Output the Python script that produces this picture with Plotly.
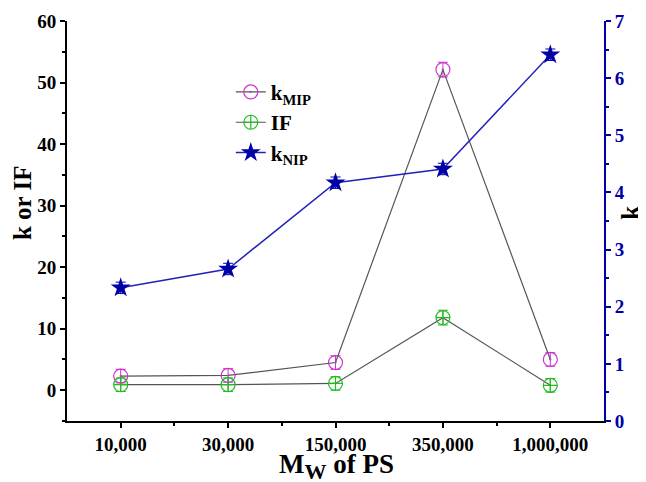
import plotly.graph_objects as go

categories = ["10,000", "30,000", "150,000", "350,000", "1,000,000"]
k_mip = [2.3, 2.4, 4.5, 52.1, 5.0]
k_mip_err = [1.1, 1.1, 1.1, 1.2, 1.1]
if_vals = [0.9, 0.9, 1.1, 11.8, 0.8]
if_err = [1.1, 1.1, 1.1, 1.2, 1.1]
k_nip = [2.33, 2.66, 4.17, 4.41, 6.41]
k_nip_err = [0.1, 0.1, 0.1, 0.1, 0.1]

xpos = list(range(len(categories)))
FONT = "Liberation Serif, Times New Roman, serif"
BLUE = "#0000a8"

fig = go.Figure()
fig.add_trace(go.Scatter(
    x=xpos, y=k_mip, name="k<sub>MIP</sub>", mode="lines+markers",
    line=dict(color="#555555", width=1.2),
    marker=dict(symbol="circle-open-dot", size=14, color="#cc33cc", line=dict(width=1.2)),
    error_y=dict(type="data", array=k_mip_err, color="#cc33cc", thickness=1, width=5),
))
fig.add_trace(go.Scatter(
    x=xpos, y=if_vals, name="IF", mode="lines+markers",
    line=dict(color="#555555", width=1.2),
    marker=dict(symbol="circle-cross-open", size=14, color="#22bb22", line=dict(width=1.2)),
    error_y=dict(type="data", array=if_err, color="#22bb22", thickness=1, width=5),
))
fig.add_trace(go.Scatter(
    x=xpos, y=k_nip, name="k<sub>NIP</sub>", mode="lines+markers", yaxis="y2",
    line=dict(color="#2222bb", width=1.5),
    marker=dict(symbol="star", size=15, color=BLUE),
    error_y=dict(type="data", array=k_nip_err, color=BLUE, thickness=1, width=5),
))

fig.update_layout(
    width=646, height=482,
    margin=dict(l=59, r=50, t=13, b=69),
    paper_bgcolor="white", plot_bgcolor="white",
    font=dict(family=FONT, size=18, color="black", weight="bold"),
    showlegend=True,
    legend=dict(x=0.305, y=0.873, xanchor="left", yanchor="top",
                bgcolor="rgba(0,0,0,0)", font=dict(size=21, family=FONT, weight="bold"),
                itemwidth=30, tracegroupgap=0),
    xaxis=dict(
        range=[-0.5, 4.5], tickmode="array", tickvals=xpos, ticktext=categories,
        showline=True, linecolor="black", linewidth=2, mirror=False, automargin=False,
        ticks="outside", ticklen=5, tickwidth=1.5, tickcolor="black",
        minor=dict(tickvals=[0.5, 1.5, 2.5, 3.5], ticks="outside", ticklen=3, tickcolor="black", tickwidth=1.5),
        showgrid=False, zeroline=False,
        tickfont=dict(size=19, family=FONT, weight="bold"),
    ),
    yaxis=dict(
        range=[-5, 60], tickmode="array", tickvals=[0, 10, 20, 30, 40, 50, 60],
        showline=True, linecolor="black", linewidth=2, automargin=False,
        ticks="outside", ticklen=5, tickwidth=1.5, tickcolor="black",
        minor=dict(tickvals=[-5, 5, 15, 25, 35, 45, 55], ticks="outside", ticklen=3, tickcolor="black", tickwidth=1.5),
        showgrid=False, zeroline=False,
        tickfont=dict(size=19, family=FONT, weight="bold"),
    ),
    yaxis2=dict(
        range=[0, 7], overlaying="y", side="right", anchor="x", automargin=False,
        tickmode="array", tickvals=[0, 1, 2, 3, 4, 5, 6, 7],
        showline=True, linecolor=BLUE, linewidth=2,
        ticks="outside", ticklen=5, tickwidth=1.5, tickcolor=BLUE,
        minor=dict(tickvals=[0.5, 1.5, 2.5, 3.5, 4.5, 5.5, 6.5], ticks="outside", ticklen=3, tickcolor=BLUE, tickwidth=1.5),
        showgrid=False, zeroline=False,
        tickfont=dict(size=19, family=FONT, weight="bold", color=BLUE),
    ),
    annotations=[
        dict(text="M<sub><span style='font-size:22px'>W</span></sub> of PS", xref="paper", yref="paper",
             x=0.501, y=-0.113, xanchor="center", yanchor="middle", showarrow=False,
             font=dict(size=27, family=FONT, weight="bold", color="black")),
        dict(text="k or IF", xref="paper", yref="paper", x=-0.084, y=0.547,
             xanchor="center", yanchor="middle", textangle=-90, showarrow=False,
             font=dict(size=25, family=FONT, weight="bold", color="black")),
        dict(text="k", xref="paper", yref="paper", x=1.048, y=0.52,
             xanchor="center", yanchor="middle", textangle=-90, showarrow=False,
             font=dict(size=25, family=FONT, weight="bold", color="black")),
    ],
)

fig.write_html("out.html")
